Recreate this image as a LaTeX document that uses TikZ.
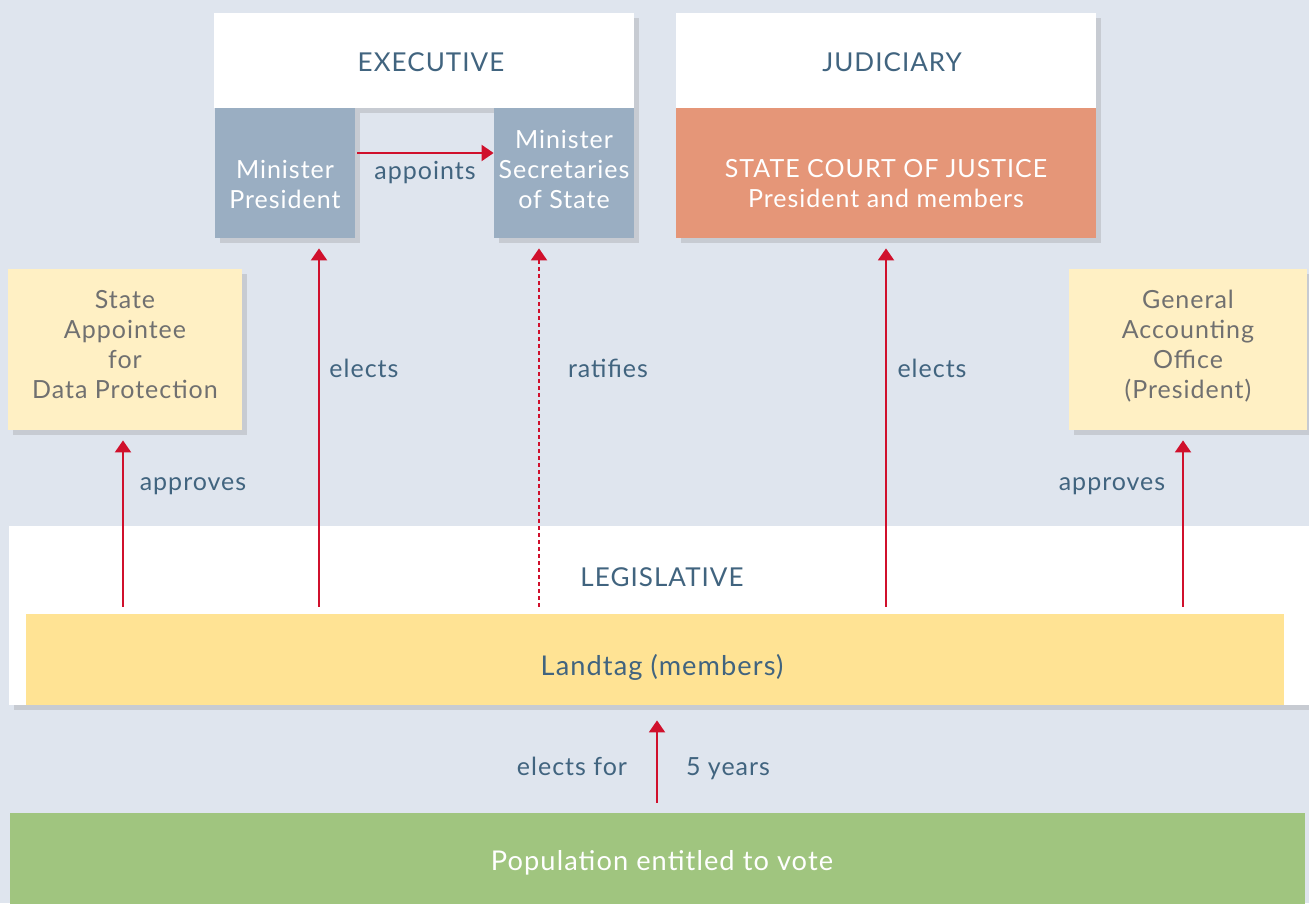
\documentclass[tikz,border=0pt]{standalone}
\usepackage{fontspec}
\setmainfont{Lato}[LetterSpace=4]
\usetikzlibrary{arrows.meta,shadows}
\definecolor{bgblue}{HTML}{DFE5EE}
\definecolor{textblue}{HTML}{41647F}
\definecolor{boxblue}{HTML}{9AAEC2}
\definecolor{courtred}{HTML}{E59678}
\definecolor{paleyellow}{HTML}{FFF0C4}
\definecolor{landyellow}{HTML}{FFE394}
\definecolor{popgreen}{HTML}{A0C57F}
\definecolor{arrowred}{HTML}{D0102C}
\definecolor{greytext}{HTML}{707070}
\tikzset{
  box/.style={rectangle, inner sep=0pt,
    drop shadow={shadow xshift=2.5pt, shadow yshift=-2.5pt, opacity=0.25}},
  flatbox/.style={rectangle, inner sep=0pt},
  boxtext/.style={align=center, inner sep=0pt, font=\fontsize{12.5}{15}\selectfont},
  head/.style={font=\fontsize{13}{15}\selectfont, text=textblue, anchor=base},
  lbl/.style={font=\fontsize{12.5}{15}\selectfont, text=textblue, anchor=base},
  bigtext/.style={font=\fontsize{13.6}{16}\selectfont, anchor=base},
  arr/.style={draw=arrowred, line width=1pt, -{Triangle[width=8pt,length=6pt]},
    shorten <=3.5pt, shorten >=5pt},
}

\begin{document}
\begin{tikzpicture}[x=0.5pt,y=-0.5pt]
			%%%%% START %%%%%
			
			\fill[bgblue] (0,0) rectangle (1309,903);
			\useasboundingbox (0,0) rectangle (1309,903);
			
			% executive
			\node[box, fill=white, minimum width=210pt, minimum height=47.5pt] (exec) at (424,60.5) {};
			\node[head] (exectxt) at (431,72) {EXECUTIVE};
			\node[box, fill=boxblue, minimum width=70pt, minimum height=65pt] (mp) at (285,173) {};
			\node[boxtext, text=white] (mptxt) at (285,184) {Minister\\President};
			\node[box, fill=boxblue, minimum width=70pt, minimum height=65pt] (mss) at (564,173) {};
			\node[boxtext, text=white] (msstxt) at (564,169) {Minister\\Secretaries\\of State};
			
			% judiciary
			\node[box, fill=white, minimum width=210pt, minimum height=47.5pt] (jud) at (886,60.5) {};
			\node[head] (judtxt) at (892,72) {JUDICIARY};
			\node[box, fill=courtred, minimum width=210pt, minimum height=65pt] (court) at (886,173) {};
			\node[boxtext, text=white] (courttxt) at (886,184) {STATE COURT OF JUSTICE\\President and members};
			
			% side offices
			\node[box, fill=paleyellow, minimum width=117pt, minimum height=80.5pt] (sadp) at (125,349.5) {};
			\node[boxtext, text=greytext] (sadptxt) at (125,345) {State\\Appointee\\for\\Data Protection};
			\node[box, fill=paleyellow, minimum width=119pt, minimum height=80.5pt] (gao) at (1188,349.5) {};
			\node[boxtext, text=greytext] (gaotxt) at (1188,346) {General\\Accounting\\Office\\(President)};
			
			% legislative
			\node[box, fill=white, minimum width=650pt, minimum height=89.5pt] (legis) at (659,615.5) {};
			\node[head] (legtitle) at (662,586) {LEGISLATIVE};
			\node[flatbox, fill=landyellow, minimum width=629pt, minimum height=45.5pt] (landtag) at (655,659.5) {};
			\node[bigtext, text=textblue] (landtxt) at (662,675) {Landtag (members)};
			
			% population
			\node[flatbox, fill=popgreen, minimum width=647.5pt, minimum height=48pt] (pop) at (657.5,861) {};
			\node[bigtext, text=white] (poptxt) at (662,870) {Population entitled to vote};
			
			% arrow columns
			\coordinate (c1) at (123,0);
			\coordinate (c2) at (319,0);
			\coordinate (c3) at (539,0);
			\coordinate (c4) at (886,0);
			\coordinate (c5) at (1183,0);
			\coordinate (c6) at (0,153);
			\coordinate (c7) at (657,0);
			
			\draw[arr] (landtag.north -| c1) -- (sadp.south -| c1);
			\draw[arr] (landtag.north -| c2) -- (mp.south -| c2);
			\draw[arr, dash pattern=on 2pt off 1.5pt] (landtag.north -| c3) -- (mss.south -| c3);
			\draw[arr] (landtag.north -| c4) -- (court.south -| c4);
			\draw[arr] (landtag.north -| c5) -- (gao.south -| c5);
			\draw[arr, shorten <=1pt, shorten >=0pt] (mp.east |- c6) -- (mss.west |- c6);
			\draw[arr, shorten <=5pt, shorten >=7.5pt] (pop.north -| c7) -- (landtag.south -| c7);
			
			\node[lbl] (l1) at (193,490) {approves};
			\node[lbl] (l2) at (364,377) {elects};
			\node[lbl] (l3) at (608,377) {ratifies};
			\node[lbl] (l4) at (932,377) {elects};
			\node[lbl] (l5) at (1112,490) {approves};
			\node[lbl] (l6) at (425,180) {appoints};
			\node[lbl] (l7) at (572,775) {elects for};
			\node[lbl] (l8) at (728,775) {5 years};
			
			%%%%% END %%%%%
\end{tikzpicture}
\end{document}
